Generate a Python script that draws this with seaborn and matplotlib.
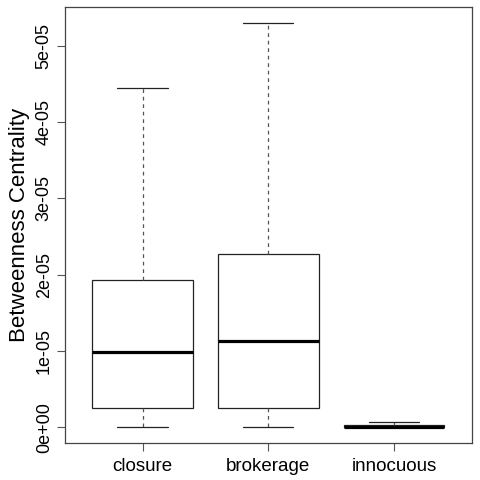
import matplotlib

matplotlib.use("Agg")
import matplotlib.pyplot as plt
import pandas as pd
import seaborn as sns
from matplotlib.ticker import FuncFormatter

# five-number summaries (min, Q1, median, Q3, max)
GROUPS = ["closure", "brokerage", "innocuous"]
CLOSURE = [0.0, 0.249e-5, 0.984e-5, 1.929e-5, 4.449e-5]
BROKERAGE = [0.0, 0.257e-5, 1.133e-5, 2.274e-5, 5.300e-5]
INNOCUOUS = [0.0, 0.0, 0.002e-5, 0.026e-5, 0.073e-5]
Y_TICKS = [0, 1e-5, 2e-5, 3e-5, 4e-5, 5e-5]

df = pd.DataFrame(
    {
        "group": [g for g, vals in zip(GROUPS, [CLOSURE, BROKERAGE, INNOCUOUS]) for _ in vals],
        "value": CLOSURE + BROKERAGE + INNOCUOUS,
    }
)

sns.set_theme(style="ticks")
plt.rcParams["font.family"] = ["Liberation Sans", "DejaVu Sans"]
plt.rcParams["text.color"] = "black"
plt.rcParams["axes.labelcolor"] = "black"
plt.rcParams["xtick.labelcolor"] = "black"
plt.rcParams["ytick.labelcolor"] = "black"

fig = plt.figure(figsize=(4.8, 4.8), dpi=100)
ax = fig.add_axes([0.1346, 0.0765, 0.9833 - 0.1346, 0.9854 - 0.0765])

line = "#222222"
sns.boxplot(
    data=df, x="group", y="value", order=GROUPS, ax=ax,
    whis=(0, 100), width=0.8, color="white", linecolor=line, linewidth=0.9,
    medianprops={"color": "black", "linewidth": 2.3},
    whiskerprops={"linestyle": (0, (3, 3)), "color": "#555555"},
    capprops={"color": line},
)

# R-style axis padding (4% each side)
r = max(BROKERAGE) - 0.0
ax.set_ylim(-0.04 * r, max(BROKERAGE) + 0.04 * r)
ax.set_xlim(-0.62, 2.62)

ax.set_yticks(Y_TICKS)
ax.yaxis.set_major_formatter(FuncFormatter(lambda v, _: f"{v:.0e}"))
for lab in ax.get_yticklabels():
    lab.set_rotation(90)
    lab.set_va("center")
ax.tick_params(axis="both", length=5.5, width=0.8, color="#555555", labelsize=13.5, pad=5)
ax.tick_params(axis="y", labelsize=13, pad=3)

ax.set_xlabel("")
ax.set_ylabel("Betweenness Centrality", fontsize=16, labelpad=4)
for s in ax.spines.values():
    s.set_visible(True)
    s.set_color("#444444")
    s.set_linewidth(0.9)

fig.savefig("out.png", dpi=100, facecolor="white")
